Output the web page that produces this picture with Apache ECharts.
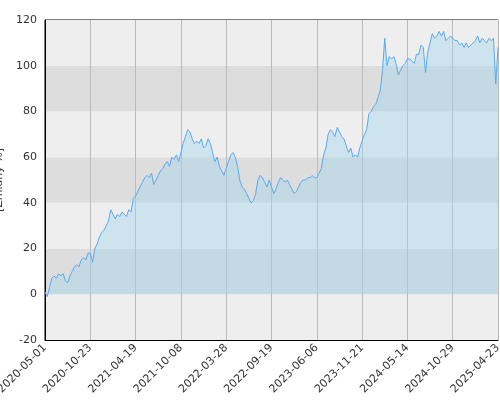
<!DOCTYPE html>
<html>
<head>
<meta charset="utf-8">
<script src="https://cdn.jsdelivr.net/npm/echarts@6/dist/echarts.min.js"></script>
<style>html,body{margin:0;padding:0;background:#fff}#c{width:500px;height:400px}</style>
</head>
<body>
<div id="c"></div>
<script>
const tickLabels = ['2020-05-01', '2020-10-23', '2021-04-19', '2021-10-08', '2022-03-28', '2022-09-19',
    '2023-06-06', '2023-11-21', '2024-05-14', '2024-10-29', '2025-04-23'];
const step = 20;
const values = [
    1, -1, 3, 7, 8, 7, 9, 8, 9, 6, 5, 8, 10, 12, 13, 12, 15, 16, 15, 18,
    18, 14, 20, 22, 25, 27, 28, 30, 32, 37, 35, 33, 35, 34, 36, 35, 34, 37, 36, 42,
    43, 45, 47, 49, 51, 52, 51, 53, 48, 50, 52, 54, 55, 57, 58, 56, 60, 59, 61, 58,
    62, 66, 69, 72, 71, 68, 66, 67, 66, 68, 64, 65, 68, 66, 62, 58, 60, 56, 54, 52,
    55, 58, 61, 62, 60, 56, 50, 47, 46, 44, 42, 40, 41, 44, 50, 52, 51, 49, 47, 50,
    47, 44, 46, 49, 51, 50, 49, 50, 48, 46, 44, 45, 47, 49, 50, 50, 51, 51, 52, 51,
    51, 53, 55, 61, 64, 70, 72, 71, 69, 73, 71, 69, 68, 65, 62, 64, 60, 61, 60, 64,
    67, 70, 72, 79, 80, 82, 83, 86, 89, 98, 112, 100, 104, 103, 104, 101, 96, 98, 100, 101,
    103, 103, 102, 101, 105, 105, 109, 108, 97, 106, 110, 114, 112, 113, 115, 113, 115, 111, 112, 113,
    112, 111, 111, 109, 110, 108, 110, 108, 109, 110, 111, 113, 110, 112, 111, 110, 112, 111, 112, 92,
    108
];
const cats = values.map((v, i) => (i % step === 0 ? tickLabels[i / step] : ''));

const chart = echarts.init(document.getElementById('c'));
chart.setOption({
    animation: false,
    grid: {
        left: 45, right: 2, top: 20, bottom: 60, containLabel: false, outerBoundsMode: 'none',
        show: true, borderColor: '#000', borderWidth: 1
    },
    xAxis: {
        type: 'category',
        data: cats,
        boundaryGap: false,
        axisLine: { onZero: false, lineStyle: { color: '#000' } },
        axisTick: { show: false },
        axisLabel: { interval: i => i % step === 0, rotate: 45, color: '#333', fontSize: 11, fontFamily: 'DejaVu Sans', margin: 6 },
        splitLine: { show: true, interval: i => i % step === 0, lineStyle: { color: '#bbb' } }
    },
    yAxis: {
        type: 'value',
        min: -20, max: 120, interval: 20,
        name: '[Zmiany %]',
        nameLocation: 'middle',
        nameGap: 30,
        nameTextStyle: { color: '#333', fontSize: 11, fontFamily: 'DejaVu Sans' },
        axisLine: { show: true, lineStyle: { color: '#000' } },
        axisTick: { show: false },
        axisLabel: { color: '#333', fontSize: 11, fontFamily: 'DejaVu Sans' },
        splitLine: { show: false },
        splitArea: { show: true, areaStyle: { color: ['#eeeeee', '#dddddd'] } }
    },
    series: [{
        type: 'line',
        data: values,
        symbol: 'none',
        lineStyle: { color: '#5aa9f0', width: 1 },
        areaStyle: { color: 'rgba(160,215,240,0.6)', origin: 0 }
    }]
});
</script>
</body>
</html>
